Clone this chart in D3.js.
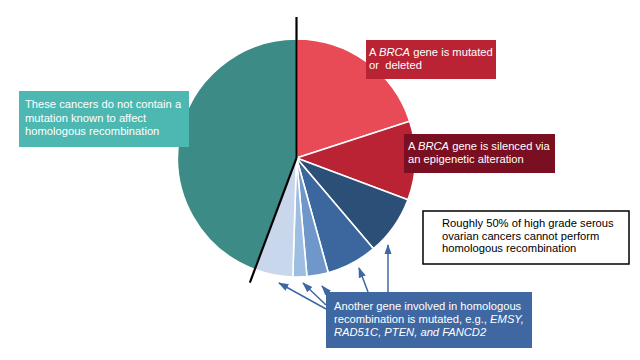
<!DOCTYPE html>
<html><head><meta charset="utf-8">
<script src="https://cdn.jsdelivr.net/npm/d3@7"></script>
<style>body{margin:0;background:#fff}svg{display:block;font-family:"Liberation Sans",Arial,sans-serif}text{white-space:pre}</style>
</head><body><svg id="c" width="640" height="360"></svg>
<script>
// Slices, clockwise from 12 o'clock
const categories = ["BRCA mutated or deleted","BRCA silenced (epigenetic)","Other HR gene 1","Other HR gene 2","Other HR gene 3","Other HR gene 4","Other HR gene 5","No known HR mutation"];
const values = [20, 10.7, 8.1, 6.9, 2.9, 1.9, 5.2, 44.3];
const colors = ["#E84B56","#B92334","#2C4F78","#3B669E","#6F97C9","#9DBEE0","#C8D7EB","#3C8B86"];

const svg = d3.select("#c");
const cx = 296.5, cy = 158, R = 119;
const pie = d3.pie().sort(null).value(d => d)(values);
const arc = d3.arc().innerRadius(0).outerRadius(R);
const g = svg.append("g").attr("transform", `translate(${cx},${cy})`);
g.selectAll("path").data(pie).join("path")
  .attr("d", arc).attr("fill", (d,i) => colors[i])
  .attr("stroke", "#fff").attr("stroke-width", 1.6).attr("stroke-linejoin","round");

// Black divider lines (start of first slice, end of HR-deficient group)
const splitAngle = pie[6].endAngle;
g.append("line").attr("x1",0).attr("y1",0).attr("x2",0).attr("y2",-141)
  .attr("stroke","#000").attr("stroke-width",2.2);
g.append("line").attr("x1",0).attr("y1",0)
  .attr("x2",133*Math.sin(splitAngle)).attr("y2",-133*Math.cos(splitAngle))
  .attr("stroke","#000").attr("stroke-width",2.2);

// Label boxes
function box(x,y,w,h,fill,stroke,textColor,lines,tx,ty,lh){
  svg.append("rect").attr("x",x).attr("y",y).attr("width",w).attr("height",h)
    .attr("fill",fill).attr("stroke",stroke||"none").attr("stroke-width",stroke?1.5:0);
  const t = svg.append("text").attr("fill",textColor).attr("font-size",11.2);
  lines.forEach((ln,i)=>{
    const line = t.append("tspan").attr("x",tx).attr("y",ty+i*lh);
    ln.forEach(seg=>{
      const s = t.append("tspan");
      s.text(seg[0]); if(seg[1]) s.attr("font-style","italic");
      line.node().appendChild(s.node());
    });
  });
}
box(366,40,130,39,"#B92334",null,"#fff",[[["A "],["BRCA",1],[" gene is mutated"]],[["or  deleted"]]],369,56,13);
box(404,134,151,39,"#7B0F22",null,"#fff",[[["A "],["BRCA",1],[" gene is silenced via"]],[["an epigenetic alteration"]]],408,150,13);
box(19,91,170,56,"#4DB8B2",null,"#fff",[[["These cancers do not contain a"]],[["mutation known to affect"]],[["homologous recombination"]]],25,108,13.5);
box(423,211,206,53,"#fff","#000","#000",[[["Roughly 50% of high grade serous"]],[["ovarian cancers cannot perform"]],[["homologous recombination"]]],442,227,12.5);

// Arrows to the minor HR slices
const defs = svg.append("defs");
defs.append("marker").attr("id","ah").attr("viewBox","0 0 10 10").attr("refX",9).attr("refY",5)
  .attr("markerWidth",7).attr("markerHeight",7).attr("orient","auto-start-reverse")
  .append("path").attr("d","M0,1.5 L10,5 L0,8.5 Z").attr("fill","#3F68A3");
const arrows = [[326,309,279,283],[326,305,303,283],[329,294,322,286],[368,292,359,268],[388,292,388,245]];
svg.selectAll("line.arr").data(arrows).join("line").attr("class","arr")
  .attr("x1",d=>d[0]).attr("y1",d=>d[1]).attr("x2",d=>d[2]).attr("y2",d=>d[3])
  .attr("stroke","#3F68A3").attr("stroke-width",1.5).attr("marker-end","url(#ah)");

box(326,292,206,56,"#3F68A3",null,"#fff",[[["Another gene involved in homologous"]],[["recombination is mutated, e.g., "],["EMSY,",1]],[["RAD51C, PTEN, and FANCD2",1]]],334,310,13);
</script></body></html>
